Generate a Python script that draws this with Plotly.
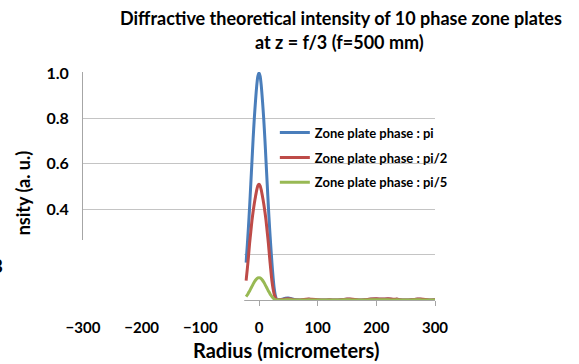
import plotly.graph_objects as go

# ---- data ----
radius_um = [-22, -20, -18, -16, -14, -12, -10, -8, -6, -4, -2, 0, 2, 4, 6, 8, 10, 12, 14, 16,
             18, 20, 22, 24, 26, 28, 30, 32, 34, 40, 45, 50, 55, 60, 70, 80, 85, 90, 100, 110,
             120, 130, 140, 150, 155, 160, 170, 180, 190, 200, 210, 220, 230, 235, 240, 250,
             260, 270, 275, 280, 290, 300]

intensity_pi = [0.165, 0.24, 0.32, 0.41, 0.51, 0.61, 0.71, 0.80, 0.875, 0.94, 0.985, 1.00, 0.985,
                0.94, 0.875, 0.80, 0.71, 0.61, 0.51, 0.41, 0.32, 0.24, 0.165, 0.10, 0.05, 0.018,
                0.003, 0.0, 0.002, 0.003, 0.008, 0.009, 0.006, 0.002, 0.0, 0.002, 0.003, 0.002,
                0.0, 0.0, 0.001, 0.0, 0.001, 0.003, 0.003, 0.002, 0.0, 0.001, 0.003, 0.004,
                0.003, 0.004, 0.002, 0.003, 0.001, 0.0, 0.001, 0.003, 0.003, 0.002, 0.0, 0.001]

intensity_pi2 = [0.085, 0.135, 0.19, 0.25, 0.30, 0.35, 0.39, 0.425, 0.455, 0.483, 0.503, 0.51,
                 0.503, 0.483, 0.455, 0.425, 0.39, 0.35, 0.30, 0.25, 0.19, 0.135, 0.085, 0.05,
                 0.025, 0.009, 0.0015, 0.0, 0.001, 0.002, 0.005, 0.006, 0.004, 0.001, 0.0, 0.003,
                 0.004, 0.003, 0.001, 0.0, 0.001, 0.0, 0.001, 0.004, 0.004, 0.003, 0.0, 0.001,
                 0.004, 0.005, 0.004, 0.005, 0.003, 0.004, 0.001, 0.0, 0.001, 0.004, 0.004,
                 0.003, 0.0, 0.001]

intensity_pi5 = [0.015, 0.022, 0.031, 0.04, 0.05, 0.06, 0.07, 0.079, 0.087, 0.093, 0.097, 0.098,
                 0.097, 0.093, 0.087, 0.079, 0.07, 0.06, 0.05, 0.04, 0.031, 0.022, 0.015, 0.009,
                 0.004, 0.001, 0.0, 0.0, 0.0, 0.0, 0.001, 0.001, 0.001, 0.0, 0.0, 0.0, 0.001,
                 0.0, 0.0, 0.0, 0.0, 0.0, 0.0, 0.001, 0.001, 0.0, 0.0, 0.0, 0.001, 0.001, 0.001,
                 0.001, 0.0, 0.001, 0.0, 0.0, 0.0, 0.001, 0.001, 0.0, 0.0, 0.0]

series_names = ["Zone plate phase : pi", "Zone plate phase : pi/2", "Zone plate phase : pi/5"]
title_lines = ["Diffractive theoretical intensity of 10 phase zone plates", "at z = f/3 (f=500 mm)"]
x_ticks = [-300, -200, -100, 0, 100, 200, 300]
y_ticks = [0.0, 0.2, 0.4, 0.6, 0.8, 1.0]

colors = ["#4A7EBB", "#BE4B48", "#98B954"]
FONT = "Lato"

fig = go.Figure()
for i, (name, vals) in enumerate(zip(series_names, [intensity_pi, intensity_pi2, intensity_pi5])):
    fig.add_trace(go.Scatter(
        x=radius_um, y=vals, mode="lines", name=name,
        line=dict(color=colors[i], width=3, shape="spline", smoothing=0.6),
        legendgroup=f"g{i}",
    ))

fig.update_layout(
    width=579, height=364,
    margin=dict(l=83, r=144, t=72, b=64),
    paper_bgcolor="white", plot_bgcolor="white",
    font=dict(family=FONT, color="black"),
    showlegend=True,
    legend=dict(
        x=0.545, y=0.80, xanchor="left", yanchor="top",
        bgcolor="rgba(0,0,0,0)", borderwidth=0,
        font=dict(family=FONT, size=13, color="black", weight="bold"),
        tracegroupgap=5, traceorder="grouped", itemwidth=30,
    ),
    xaxis=dict(
        range=[-300, 300], tickvals=x_ticks, showgrid=False, zeroline=False,
        showline=True, linecolor="#A6A6A6", linewidth=1,
        ticks="outside", ticklen=5, tickcolor="#A6A6A6",
        tickfont=dict(family=FONT, size=15, color="black", weight="bold"),
        ticklabelstandoff=9,
    ),
    yaxis=dict(
        range=[0, 1.004], tickvals=y_ticks, tickformat=".1f",
        showgrid=True, gridcolor="#C4C4C4", gridwidth=1, zeroline=False,
        showline=True, linecolor="#A6A6A6", linewidth=1, ticks="",
        tickfont=dict(family=FONT, size=16, color="black", weight="bold"),
        ticklabelstandoff=10,
    ),
    shapes=[dict(
        type="rect", xref="paper", yref="paper",
        x0=-0.3, x1=0.458, y0=-0.05, y1=0.263,
        fillcolor="white", line=dict(width=0), layer="above",
    )],
    annotations=[
        dict(text="<b>" + title_lines[0] + "</b>", xref="paper", yref="paper",
             x=0.733, y=1.237, xanchor="center", yanchor="middle",
             showarrow=False, font=dict(family=FONT, size=18, color="black")),
        dict(text="<b>" + title_lines[1] + "</b>", xref="paper", yref="paper",
             x=0.730, y=1.132, xanchor="center", yanchor="middle",
             showarrow=False, font=dict(family=FONT, size=18, color="black")),
        dict(text="<b>nsity (a. u.)</b>", xref="paper", yref="paper",
             x=-0.168, y=0.667, xanchor="center", yanchor="top", textangle=-90,
             showarrow=False, font=dict(family=FONT, size=18, color="black")),
        dict(text="<b>B</b>", xref="paper", yref="paper",
             x=-0.2216, y=0.149, xanchor="right", yanchor="middle",
             showarrow=False, font=dict(family=FONT, size=18, color="black")),
        dict(text="<b>Radius (micrometers)</b>", xref="paper", yref="paper",
             x=0.577, y=-0.22, xanchor="center", yanchor="middle",
             showarrow=False, font=dict(family=FONT, size=20, color="black")),
    ],
)

fig.write_html("out.html", config={"displayModeBar": False},
               post_script="document.body.style.margin='0';")
